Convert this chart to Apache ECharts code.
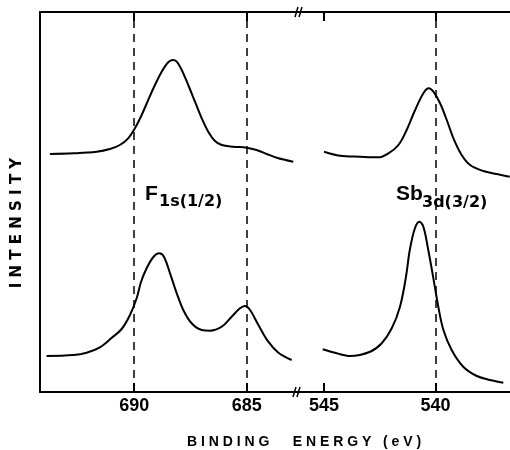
<!DOCTYPE html>
<html>
<head>
<meta charset="utf-8">
<script src="https://cdn.jsdelivr.net/npm/echarts@6/dist/echarts.min.js"></script>
<style>
  html, body { margin: 0; padding: 0; background: #fff; }
  #chart { width: 510px; height: 450px; }
</style>
</head>
<body>
<div id="chart"></div>
<script>
// F1s 区域（上、下两条谱线）
const f1sUpperEv = [693.75, 692.71, 691.67, 691.08, 690.64, 690.27, 689.97, 689.67, 689.38, 689.08, 688.78, 688.49, 688.29, 688.11, 687.89, 687.6, 687.3, 687.0, 686.71, 686.41, 686.11, 685.6, 685.0, 684.56, 684.11, 683.67, 682.93]
const f1sUpperInt = [238, 238.7, 240.3, 243, 247, 253.7, 263.7, 277, 292, 307, 320.3, 329.7, 332, 330.3, 322, 307, 290.3, 273.7, 260.3, 251, 247, 245.3, 244.3, 242, 238, 234.3, 230.3]
const f1sLowerEv = [693.9, 692.71, 692.12, 691.53, 691.01, 690.56, 690.19, 689.89, 689.7, 689.45, 689.15, 688.89, 688.68, 688.41, 688.11, 687.82, 687.45, 687.0, 686.63, 686.11, 685.67, 685.3, 685.08, 684.85, 684.48, 684.04, 683.59, 683.0]
const f1sLowerInt = [36, 37, 39.3, 44.7, 54, 63, 77, 94, 110, 123.7, 135, 138.7, 135.3, 118.7, 98.7, 82, 68.7, 62, 61.3, 65.3, 75.3, 83.7, 86, 82, 67, 50.3, 39.3, 32]

// Sb3d 区域
const sbUpperEv = [545.0, 544.28, 543.38, 542.56, 542.11, 541.66, 541.29, 540.91, 540.54, 540.3, 540.09, 539.79, 539.49, 539.19, 538.82, 538.44, 537.85, 537.25, 536.66]
const sbUpperInt = [240.3, 236.3, 235.3, 234.7, 238.7, 247, 262, 282, 298.7, 303.7, 300.3, 288.7, 272, 253.7, 237, 227, 221, 218, 215.3]
const sbLowerEv = [545.06, 544.43, 543.83, 542.93, 542.41, 541.96, 541.59, 541.32, 541.15, 540.92, 540.72, 540.54, 540.32, 540.09, 539.87, 539.64, 539.27, 538.75, 538.14, 537.55, 536.95]
const sbLowerInt = [42.7, 38.7, 36, 40.3, 48.7, 63.7, 85.3, 115.3, 142, 163.7, 170.3, 165.3, 142, 113.7, 85.3, 62, 42, 25.3, 16, 12, 9.3]

// 刻度与参考线
const leftTicks = [690, 685]
const rightTicks = [545, 540]
const leftRefLines = [690, 685]
const rightRefLines = [540]

const FONT = '"Liberation Sans", Arial, sans-serif'
const SUBFONT = '"DejaVu Sans", sans-serif'

const zip = (xs, ys) => xs.map((x, i) => [x, ys[i]])

function xAx(gridIndex, min, max, ticks, position) {
    const bottom = position === 'bottom'
    return {
        type: 'value', gridIndex, position, inverse: true, min, max,
        axisLine: { show: true, onZero: false, lineStyle: { color: '#000', width: 2 } },
        axisTick: { show: true, inside: true, length: 9, customValues: ticks, lineStyle: { color: '#000', width: 2 } },
        axisLabel: {
            show: bottom, customValues: ticks, margin: 5,
            color: '#000', fontSize: 18, fontWeight: 'bold', fontFamily: FONT
        },
        splitLine: { show: false }
    }
}

function yAx(gridIndex, showLine) {
    return {
        type: 'value', gridIndex, min: 0, max: 380,
        axisLine: { show: showLine, lineStyle: { color: '#000', width: 2 } },
        axisTick: { show: false }, axisLabel: { show: false }, splitLine: { show: false }
    }
}

function lineSeries(idx, data, refs) {
    const s = {
        type: 'line', xAxisIndex: idx, yAxisIndex: idx, data,
        smooth: 0.35, symbol: 'none', silent: true,
        lineStyle: { color: '#000', width: 2 }
    }
    if (refs) {
        s.markLine = {
            silent: true, symbol: 'none', label: { show: false },
            lineStyle: { color: '#000', width: 1.5, type: [8, 6] },
            data: refs.map(v => ({ xAxis: v }))
        }
    }
    return s
}

function breakMark(x, y) {
    return [
        { type: 'line', shape: { x1: x - 4, y1: y + 5, x2: x - 1, y2: y - 5 }, style: { stroke: '#000', lineWidth: 1.5 } },
        { type: 'line', shape: { x1: x, y1: y + 5, x2: x + 3, y2: y - 5 }, style: { stroke: '#000', lineWidth: 1.5 } }
    ]
}

const chart = echarts.init(document.getElementById('chart'))
chart.setOption({
    animation: false,
    backgroundColor: '#fff',
    grid: [
        { left: 40, top: 12, width: 258, height: 380 },
        { left: 298, top: 12, width: 212, height: 380 }
    ],
    xAxis: [
        xAx(0, 682.72, 694.19, leftTicks, 'bottom'),
        xAx(1, 536.65, 546.17, rightTicks, 'bottom'),
        xAx(0, 682.72, 694.19, leftTicks, 'top'),
        xAx(1, 536.65, 546.17, rightTicks, 'top')
    ],
    yAxis: [yAx(0, true), yAx(1, false)],
    series: [
        lineSeries(0, zip(f1sUpperEv, f1sUpperInt)),
        lineSeries(0, zip(f1sLowerEv, f1sLowerInt), leftRefLines),
        lineSeries(1, zip(sbUpperEv, sbUpperInt)),
        lineSeries(1, zip(sbLowerEv, sbLowerInt), rightRefLines)
    ],
    graphic: [
        // 峰标注
        { type: 'text', x: 145, y: 194.4, style: { text: 'F', fill: '#000', fontSize: 21, fontWeight: 'bold', fontFamily: FONT, verticalAlign: 'middle' } },
        { type: 'text', x: 159, y: 202, style: { text: '1s(1/2)', fill: '#000', fontSize: 16, fontWeight: 'bold', fontFamily: SUBFONT, verticalAlign: 'middle' } },
        { type: 'text', x: 396, y: 194.4, style: { text: 'Sb', fill: '#000', fontSize: 21, fontWeight: 'bold', fontFamily: FONT, verticalAlign: 'middle' } },
        { type: 'text', x: 422, y: 202.5, style: { text: '3d(3/2)', fill: '#000', fontSize: 16, fontWeight: 'bold', fontFamily: SUBFONT, verticalAlign: 'middle' } },
        // 坐标轴标题
        { type: 'text', x: 17, y: 223, rotation: Math.PI / 2, style: { text: 'I N T E N S I T Y', fill: '#000', fontSize: 15, fontWeight: 'bold', fontFamily: SUBFONT, align: 'center', verticalAlign: 'middle' } },
        { type: 'text', x: 304, y: 442, style: { text: 'B I N D I N G      E N E R G Y   ( e V )', fill: '#000', fontSize: 14, fontWeight: 'bold', fontFamily: FONT, align: 'center', verticalAlign: 'middle' } },
        // 断轴符号
        ...breakMark(299, 12),
        ...breakMark(297, 392)
    ]
})
</script>
</body>
</html>
